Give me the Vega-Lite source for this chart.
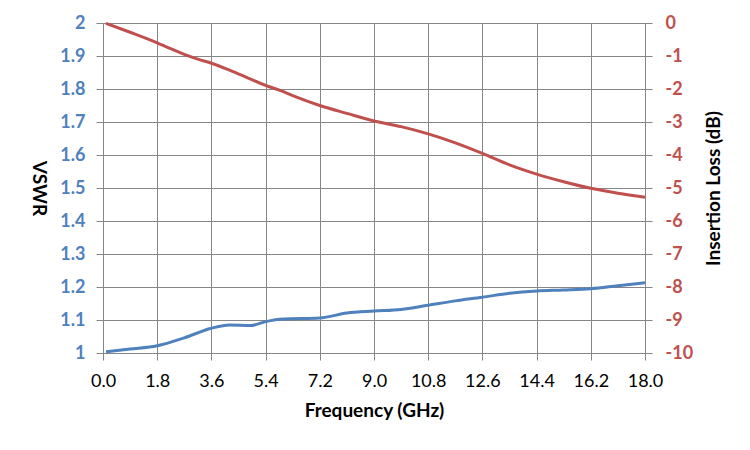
{
  "$schema": "https://vega.github.io/schema/vega-lite/v6.json",
  "width": 542,
  "height": 330,
  "autosize": {"type": "none"},
  "padding": {"left": 103, "top": 23, "right": 105, "bottom": 97},
  "background": "white",
  "config": {
    "view": {"stroke": null},
    "font": "Lato",
    "axis": {
      "gridColor": "#868686",
      "gridOpacity": 1,
      "domainColor": "#868686",
      "tickColor": "#868686",
      "tickSize": 7,
      "labelFontSize": 18,
      "titleFontSize": 19,
      "titleFontWeight": "bold",
      "titleColor": "black",
      "labelFlush": false,
      "labelOverlap": false
    }
  },
  "datasets": {
    "vswr": [
      {"freq": 0.1, "vswr": 1.004},
      {"freq": 0.9, "vswr": 1.012},
      {"freq": 1.8, "vswr": 1.022},
      {"freq": 2.7, "vswr": 1.046},
      {"freq": 3.6, "vswr": 1.075},
      {"freq": 4.2, "vswr": 1.085},
      {"freq": 4.9, "vswr": 1.083},
      {"freq": 5.4, "vswr": 1.095},
      {"freq": 6.0, "vswr": 1.103},
      {"freq": 7.2, "vswr": 1.106},
      {"freq": 8.1, "vswr": 1.121},
      {"freq": 9.0, "vswr": 1.127},
      {"freq": 9.9, "vswr": 1.132},
      {"freq": 10.8, "vswr": 1.145},
      {"freq": 11.7, "vswr": 1.158},
      {"freq": 12.6, "vswr": 1.169},
      {"freq": 13.5, "vswr": 1.181},
      {"freq": 14.4, "vswr": 1.188},
      {"freq": 15.3, "vswr": 1.191},
      {"freq": 16.2, "vswr": 1.195},
      {"freq": 17.1, "vswr": 1.204},
      {"freq": 18.0, "vswr": 1.213}
    ],
    "loss": [
      {"freq": 0.1, "il": -0.01},
      {"freq": 0.9, "il": -0.28},
      {"freq": 1.8, "il": -0.6},
      {"freq": 2.2, "il": -0.76},
      {"freq": 2.7, "il": -0.95},
      {"freq": 3.2, "il": -1.11},
      {"freq": 3.6, "il": -1.22},
      {"freq": 4.2, "il": -1.43},
      {"freq": 4.8, "il": -1.66},
      {"freq": 5.4, "il": -1.89},
      {"freq": 5.9, "il": -2.05},
      {"freq": 6.3, "il": -2.2},
      {"freq": 7.2, "il": -2.5},
      {"freq": 8.1, "il": -2.74},
      {"freq": 9.0, "il": -2.97},
      {"freq": 9.9, "il": -3.14},
      {"freq": 10.8, "il": -3.36},
      {"freq": 11.7, "il": -3.63},
      {"freq": 12.6, "il": -3.95},
      {"freq": 13.5, "il": -4.3},
      {"freq": 14.4, "il": -4.58},
      {"freq": 15.3, "il": -4.81},
      {"freq": 16.2, "il": -5.01},
      {"freq": 17.1, "il": -5.16},
      {"freq": 18.0, "il": -5.28}
    ]
  },
  "layer": [
    {
      "data": {"name": "vswr"},
      "mark": {"type": "line", "color": "#4F81BD", "strokeWidth": 3, "interpolate": "monotone"},
      "encoding": {
        "x": {
          "field": "freq",
          "type": "quantitative",
          "scale": {"domain": [0, 18], "nice": false},
          "axis": {
            "title": "Frequency (GHz)",
            "values": [0, 1.8, 3.6, 5.4, 7.2, 9.0, 10.8, 12.6, 14.4, 16.2, 18.0],
            "format": ".1f",
            "labelColor": "black",
            "labelPadding": 12,
            "titlePadding": 11,
            "grid": true
          }
        },
        "y": {
          "field": "vswr",
          "type": "quantitative",
          "scale": {"domain": [1, 2], "nice": false},
          "axis": {
            "title": "VSWR",
            "titleAngle": 90,
            "titleX": -65,
            "titleY": 165,
            "titleAlign": "center",
            "titleBaseline": "middle",
            "values": [1, 1.1, 1.2, 1.3, 1.4, 1.5, 1.6, 1.7, 1.8, 1.9, 2],
            "format": ".1~f",
            "labelColor": "#4F81BD",
            "labelFontWeight": "bold",
            "labelPadding": 11,
            "grid": true
          }
        }
      }
    },
    {
      "data": {"name": "loss"},
      "mark": {"type": "line", "color": "#C0504D", "strokeWidth": 3, "interpolate": "monotone"},
      "encoding": {
        "x": {"field": "freq", "type": "quantitative"},
        "y": {
          "field": "il",
          "type": "quantitative",
          "scale": {"domain": [-10, 0], "nice": false},
          "axis": {
            "orient": "right",
            "title": "Insertion Loss (dB)",
            "titleAngle": 270,
            "titleX": 68,
            "titleY": 165,
            "titleAlign": "center",
            "titleBaseline": "middle",
            "values": [0, -1, -2, -3, -4, -5, -6, -7, -8, -9, -10],
            "labelExpr": "datum.value + ''",
            "labelColor": "#C0504D",
            "labelFontWeight": "bold",
            "labelPadding": 13,
            "grid": false
          }
        }
      }
    }
  ],
  "resolve": {"scale": {"y": "independent"}}
}
